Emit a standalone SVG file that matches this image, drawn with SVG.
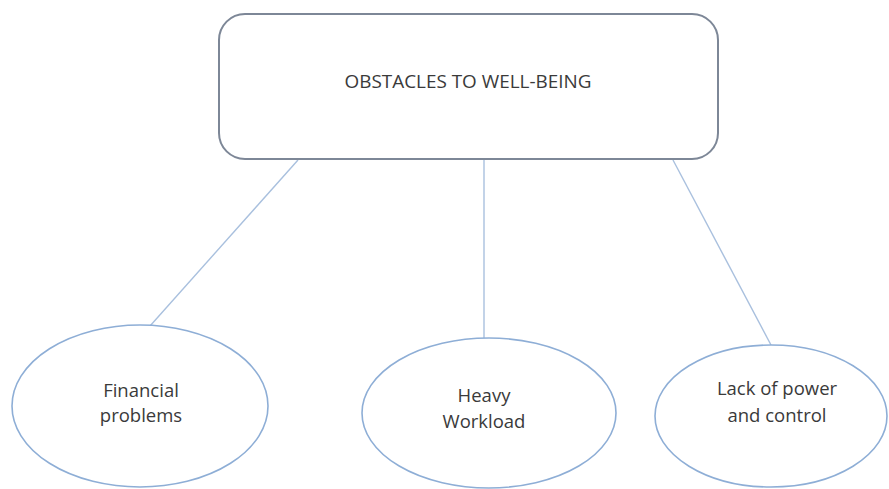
<svg xmlns="http://www.w3.org/2000/svg" width="889" height="489" viewBox="0 0 889 489">
<style>
.lbl{font-family:"Open Sans","Liberation Sans",sans-serif;font-size:18.5px;fill:#3a3a3a;text-anchor:middle}
.ell{fill:#fff;stroke:#8eaed6;stroke-width:1.6}
.con{stroke:#a9c0de;stroke-width:1.4;fill:none}
</style>
<rect width="889" height="489" fill="#fff"/>
<g id="connectors">
<line class="con" x1="298" y1="160" x2="150" y2="326"/>
<line class="con" x1="484" y1="160" x2="484" y2="338"/>
<line class="con" x1="673" y1="160" x2="771" y2="345"/>
</g>
<g id="root">
<rect x="219" y="14" width="499" height="145" rx="26" ry="26" fill="#fff" stroke="#7d8797" stroke-width="2"/>
<text class="lbl" x="468" y="88" style="font-size:17.5px" textLength="247" lengthAdjust="spacingAndGlyphs">OBSTACLES TO WELL-BEING</text>
</g>
<g id="financial">
<ellipse class="ell" cx="140" cy="406" rx="128" ry="81"/>
<text class="lbl" x="141" y="397">Financial</text>
<text class="lbl" x="141" y="422">problems</text>
</g>
<g id="workload">
<ellipse class="ell" cx="489" cy="413" rx="127" ry="75"/>
<text class="lbl" x="484" y="402">Heavy</text>
<text class="lbl" x="484" y="428">Workload</text>
</g>
<g id="power">
<ellipse class="ell" cx="771" cy="416" rx="116" ry="71"/>
<text class="lbl" x="777" y="395">Lack of power</text>
<text class="lbl" x="777" y="422">and control</text>
</g>
</svg>
